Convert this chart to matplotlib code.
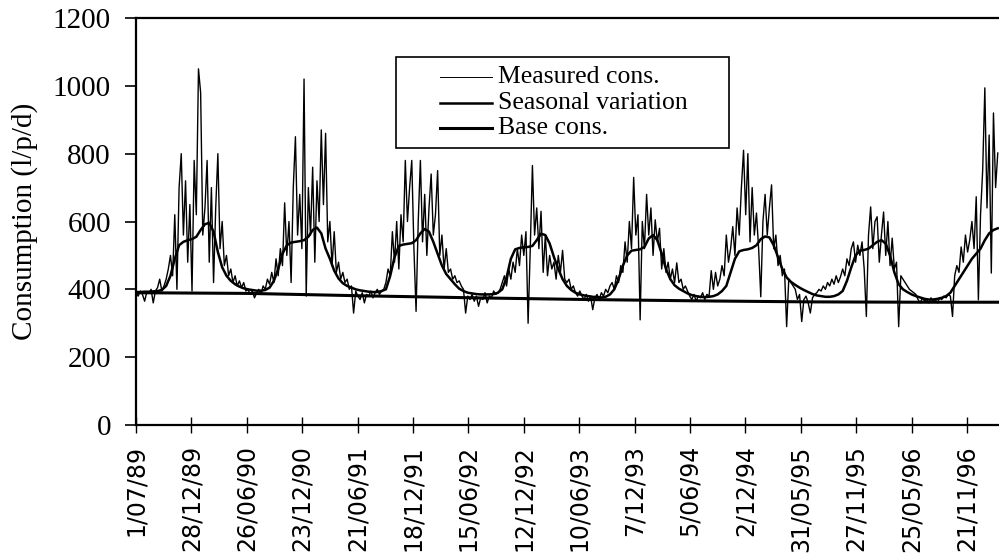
import numpy as np
import matplotlib
matplotlib.use("Agg")
import matplotlib.pyplot as plt
from matplotlib.patches import Rectangle
from matplotlib.lines import Line2D

win89 = [390, 380, 395, 385, 365, 392, 388, 400, 360, 395, 405, 430, 395, 410]
sum89 = [430, 460, 500, 440, 620, 400, 700, 800, 560, 720, 480, 650, 395, 780,
         620, 1050, 980, 560, 640, 780, 480, 700, 420, 640, 800, 520, 600, 470,
         500, 440, 460, 420, 440, 410, 425, 405, 420, 395, 400]
win90 = [385, 395, 375, 390, 400, 385, 410, 400]
sum90 = [430, 415, 450, 420, 490, 440, 520, 470, 655, 500, 600, 420, 700, 850,
         560, 680, 520, 1020, 380, 700, 560, 760, 480, 720, 600, 870, 650, 860,
         540, 600, 470, 570, 450, 480, 430, 450, 420, 430, 400, 410, 330, 395]
win91 = [380, 370, 390, 360, 385, 380, 395, 375, 390, 400, 385]
sum91 = [395, 400, 420, 460, 440, 570, 480, 600, 460, 620, 540, 780, 600, 700,
         780, 520, 335, 600, 780, 540, 680, 500, 640, 740, 560, 620, 750, 500,
         560, 460, 520, 450, 460, 430, 440, 420, 425, 410, 400]
win92 = [330, 380, 370, 385, 365, 380, 350, 375, 370, 390, 360, 380, 375, 395, 385]
sum92 = [390, 400, 420, 440, 410, 460, 430, 480, 450, 520, 470, 560, 500, 570,
         300, 520, 765, 560, 640, 520, 630, 450, 560, 440, 500, 460, 480, 430,
         500, 450, 515, 430, 420, 430, 400, 410, 390, 380, 395, 380, 370]
win93 = [385, 365, 380, 340, 375, 385, 370, 390, 380, 400]
sum93 = [390, 410, 420, 400, 440, 420, 470, 450, 540, 480, 600, 520, 730, 560,
         620, 310, 600, 520, 680, 560, 640, 500, 605, 540, 580, 460, 520, 450,
         480, 430, 460, 420, 478, 420, 430, 400, 410, 395]
win94 = [380, 370, 385, 365, 380, 375, 390, 370, 385, 380, 455, 400, 450]
sum94 = [410, 430, 470, 440, 560, 480, 520, 585, 500, 640, 560, 700, 810, 620,
         800, 540, 700, 560, 625, 520, 378, 600, 680, 560, 640, 708, 520, 560,
         470, 500, 440, 460, 290, 430, 420, 410, 400]
win95 = [370, 385, 305, 370, 380, 360, 330, 375, 385, 390, 400]
sum95 = [395, 410, 400, 420, 410, 430, 415, 440, 420, 437, 460, 440, 490, 470,
         520, 540, 480, 530, 500, 540, 460, 320, 560, 643, 520, 600, 614, 480,
         560, 628, 500, 600, 470, 551, 460, 480, 290, 440, 430, 420, 410, 400,
         395, 390]
win96 = [385, 370, 360, 375, 365, 370, 360, 375, 365, 370, 360, 375, 370, 380,
         375, 385, 380, 320]
sum96 = [440, 470, 450, 525, 480, 560, 510, 546, 600, 520, 673, 369, 620, 752,
         994, 640, 855, 448, 920, 700, 802]

# seasonal variation, read at fortnightly steps
seasonal = [392, 392, 393, 393, 394, 395, 398, 410, 440, 490,
            530, 540, 545, 548, 555, 575, 592, 596, 570, 510,
            465, 440, 425, 415, 408, 403, 400, 398, 396, 396,
            398, 405, 425, 460, 505, 530, 538, 540, 542, 545,
            555, 575, 582, 565, 520, 490, 455, 432, 418, 410,
            405, 400, 397, 395, 393, 392, 392, 395, 400, 440,
            495, 528, 532, 534, 536, 545, 565, 578, 570, 540,
            505, 470, 445, 430, 415, 402, 395, 390, 388, 386,
            385, 385, 385, 386, 390, 400, 435, 490, 518, 522,
            524, 525, 528, 545, 564, 560, 535, 495, 460, 430,
            410, 398, 390, 385, 382, 380, 378, 377, 376, 378,
            385, 400, 430, 470, 500, 514, 516, 518, 525, 550,
            560, 545, 505, 460, 430, 412, 402, 395, 388, 383,
            380, 378, 377, 378, 380, 385, 395, 410, 450, 490,
            512, 516, 518, 522, 530, 548, 556, 553, 530, 495,
            460, 435, 422, 413, 405, 398, 392, 386, 382, 380,
            378, 378, 380, 385, 395, 425, 465, 500, 514, 516,
            520, 530, 540, 545, 535, 500, 450, 415, 400, 392,
            385, 380, 376, 372, 370, 370, 372, 375, 380, 390,
            410, 430, 450, 470, 490, 505, 520, 545, 565, 575, 580]

# base consumption, yearly values
base_days = [0, 365, 730, 1096, 1461, 1826, 2191, 2556, 2804]
base_vals = [390, 388, 381, 375, 370, 366, 363, 362, 362]

tick_labels = ["1/07/89", "28/12/89", "26/06/90", "23/12/90", "21/06/91",
               "18/12/91", "15/06/92", "12/12/92", "10/06/93", "7/12/93",
               "5/06/94", "2/12/94", "31/05/95", "27/11/95", "25/05/96",
               "21/11/96"]

measured = np.concatenate([win89, sum89, win90, sum90, win91, sum91, win92,
                           sum92, win93, sum93, win94, sum94, win95, sum95,
                           win96, sum96])
meas_days = 7 * np.arange(len(measured))
seas_days = 14 * np.arange(len(seasonal))

serif = "Liberation Serif"

fig = plt.figure(figsize=(9.99, 5.6), dpi=100)
ax = fig.add_axes([136 / 999, 1 - 425 / 560, 863 / 999, 407 / 560])

ax.plot(meas_days, measured, color="black", lw=1.0)
ax.plot(seas_days, seasonal, color="black", lw=1.8)
ax.plot(base_days, base_vals, color="black", lw=2.2)

ax.set_xlim(0, 2804)
ax.set_ylim(0, 1200)
ax.set_yticks(np.arange(0, 1201, 200))
ax.set_xticks(180 * np.arange(len(tick_labels)))
ax.set_xticklabels(tick_labels, rotation=90, family="DejaVu Sans", fontsize=17)
for lab in ax.get_yticklabels():
    lab.set_family(serif)
    lab.set_fontsize(21)

ax.tick_params(axis="y", direction="out", length=8, width=1.2, pad=10)
ax.tick_params(axis="x", direction="inout", length=11, width=1.0, pad=9)
ax.spines["right"].set_visible(False)
for s in ["left", "bottom", "top"]:
    ax.spines[s].set_linewidth(1.6)

ax.set_ylabel("Consumption (l/p/d)", family=serif, fontsize=21)
ax.yaxis.set_label_coords(-0.1136, 0.501)

# legend box drawn in axes fraction
ax.add_patch(Rectangle((0.301, 0.681), 0.386, 0.223, transform=ax.transAxes,
                       fill=True, facecolor="white", edgecolor="black",
                       lw=1.2, zorder=5))
legend_rows = [("Measured cons.", 0.7, 0.855),
               ("Seasonal variation", 1.8, 0.791),
               ("Base cons.", 2.2, 0.730)]
for label, lw, fy in legend_rows:
    ax.add_line(Line2D([0.352, 0.413], [fy, fy], transform=ax.transAxes,
                       color="black", lw=lw, zorder=6))
    ax.text(0.4195, fy, label, transform=ax.transAxes, va="center",
            ha="left", family=serif, fontsize=18.5, zorder=6)

fig.savefig("out.png", dpi=100)
